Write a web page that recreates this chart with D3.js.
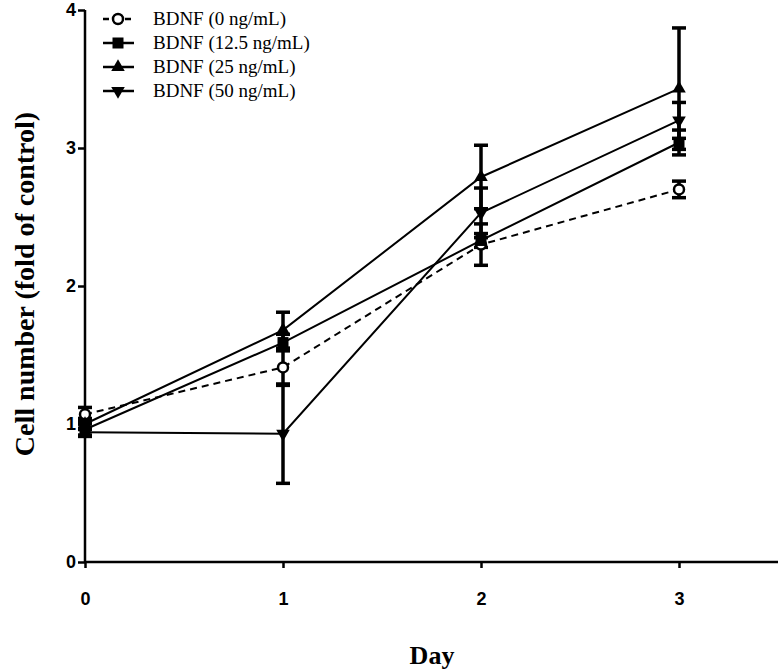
<!DOCTYPE html>
<html><head><meta charset="utf-8">
<script src="https://cdn.jsdelivr.net/npm/d3@7"></script>
<style>body{margin:0;background:#fff}</style>
</head><body>
<svg id="c" width="780" height="670"></svg>
<script>
const days = [0, 1, 2, 3];
const seriesNames = ["BDNF (0 ng/mL)", "BDNF (12.5 ng/mL)", "BDNF (25 ng/mL)", "BDNF (50 ng/mL)"];
const mean0   = [1.07, 1.41, 2.30, 2.70];
const err0    = [0.05, 0.13, 0.15, 0.06];
const mean125 = [0.96, 1.59, 2.33, 3.04];
const err125  = [0.04, 0.06, 0.05, 0.09];
const mean25  = [1.00, 1.68, 2.79, 3.43];
const err25   = [0.04, 0.13, 0.23, 0.44];
const mean50  = [0.94, 0.93, 2.53, 3.20];
const err50   = [0.03, 0.36, 0.18, 0.13];
const yTicks = [0, 1, 2, 3, 4];
const xTicks = [0, 1, 2, 3];

const series = [
  {name: seriesNames[0], mean: mean0, err: err0, sym: "circle", dash: "7,5"},
  {name: seriesNames[1], mean: mean125, err: err125, sym: "square", dash: null},
  {name: seriesNames[2], mean: mean25, err: err25, sym: "tri", dash: null},
  {name: seriesNames[3], mean: mean50, err: err50, sym: "tridown", dash: null}
];

const svg = d3.select("#c");
const x = d3.scaleLinear().domain([0, 3.5]).range([85, 778]);
const y = d3.scaleLinear().domain([0, 4]).range([562, 10]);

// axes
const xAxis = svg.append("g").attr("transform", `translate(0,${y(0)})`)
  .call(d3.axisBottom(x).tickValues(xTicks).tickSize(6).tickPadding(24).tickFormat(d3.format("d")));
const yAxis = svg.append("g").attr("transform", `translate(${x(0)},0)`)
  .call(d3.axisLeft(y).tickValues(yTicks).tickSize(7).tickPadding(2).tickFormat(d3.format("d")));
[xAxis, yAxis].forEach(a => {
  a.select(".domain").attr("stroke", "#000").attr("stroke-width", 2.5);
  a.selectAll(".tick line").attr("stroke", "#000").attr("stroke-width", 2.5);
  a.selectAll(".tick text").attr("font-family", "Liberation Sans, Arial, sans-serif")
    .attr("font-weight", "bold").attr("font-size", 18).attr("fill", "#000");
});
xAxis.select(".domain").attr("d", `M${x(0)},0H${x(3.5)}`);
yAxis.select(".domain").attr("d", `M0,${y(4)}V${y(0)}`);

// axis titles
svg.append("text").attr("x", 432).attr("y", 664).attr("text-anchor", "middle")
  .attr("font-family", "Liberation Serif, Times New Roman, serif").attr("font-weight", "bold")
  .attr("font-size", 26).text("Day");
svg.append("text").attr("transform", "translate(34,284) rotate(-90)").attr("text-anchor", "middle")
  .attr("font-family", "Liberation Serif, Times New Roman, serif").attr("font-weight", "bold")
  .attr("font-size", 28).text("Cell number (fold of control)");

const line = d3.line().x((d, i) => x(days[i])).y(d => y(d));

function drawMarker(g, sym, cx, cy) {
  if (sym === "circle") {
    g.append("circle").attr("cx", cx).attr("cy", cy).attr("r", 5)
      .attr("fill", "#fff").attr("stroke", "#000").attr("stroke-width", 2.5);
  } else if (sym === "square") {
    g.append("rect").attr("x", cx - 5.5).attr("y", cy - 5.5).attr("width", 11).attr("height", 11).attr("fill", "#000");
  } else if (sym === "tri") {
    g.append("path").attr("d", d3.symbol(d3.symbolTriangle, 80)()).attr("transform", `translate(${cx},${cy})`).attr("fill", "#000");
  } else {
    g.append("path").attr("d", d3.symbol(d3.symbolTriangle, 80)()).attr("transform", `translate(${cx},${cy}) rotate(180)`).attr("fill", "#000");
  }
}

// lines
series.forEach(s => {
  svg.append("path").datum(s.mean).attr("d", line).attr("fill", "none")
    .attr("stroke", "#000").attr("stroke-width", 2).attr("stroke-dasharray", s.dash);
});
// error bars
series.forEach(s => {
  const g = svg.append("g");
  s.mean.forEach((m, i) => {
    const cx = x(days[i]);
    const t = y(m + s.err[i]), b = y(m - s.err[i]);
    g.append("line").attr("x1", cx).attr("x2", cx).attr("y1", t).attr("y2", b).attr("stroke", "#000").attr("stroke-width", 3.5);
    [t, b].forEach(v => g.append("line").attr("x1", cx - 7).attr("x2", cx + 7).attr("y1", v).attr("y2", v).attr("stroke", "#000").attr("stroke-width", 3.5));
  });
});
// markers
series.forEach(s => {
  const g = svg.append("g");
  s.mean.forEach((m, i) => drawMarker(g, s.sym, x(days[i]), y(m)));
});

// legend
const lg = svg.append("g");
series.forEach((s, i) => {
  const ly = 19 + i * 24;
  const row = lg.append("g");
  row.append("line").attr("x1", 103).attr("x2", 134).attr("y1", ly).attr("y2", ly)
    .attr("stroke", "#000").attr("stroke-width", 2.5).attr("stroke-dasharray", s.dash ? "6,5" : null);
  drawMarker(row, s.sym, 118, ly);
  row.append("text").attr("x", 153).attr("y", ly + 6).attr("font-family", "Liberation Serif, Times New Roman, serif")
    .attr("font-size", 19).text(s.name);
});
</script>
</body></html>
